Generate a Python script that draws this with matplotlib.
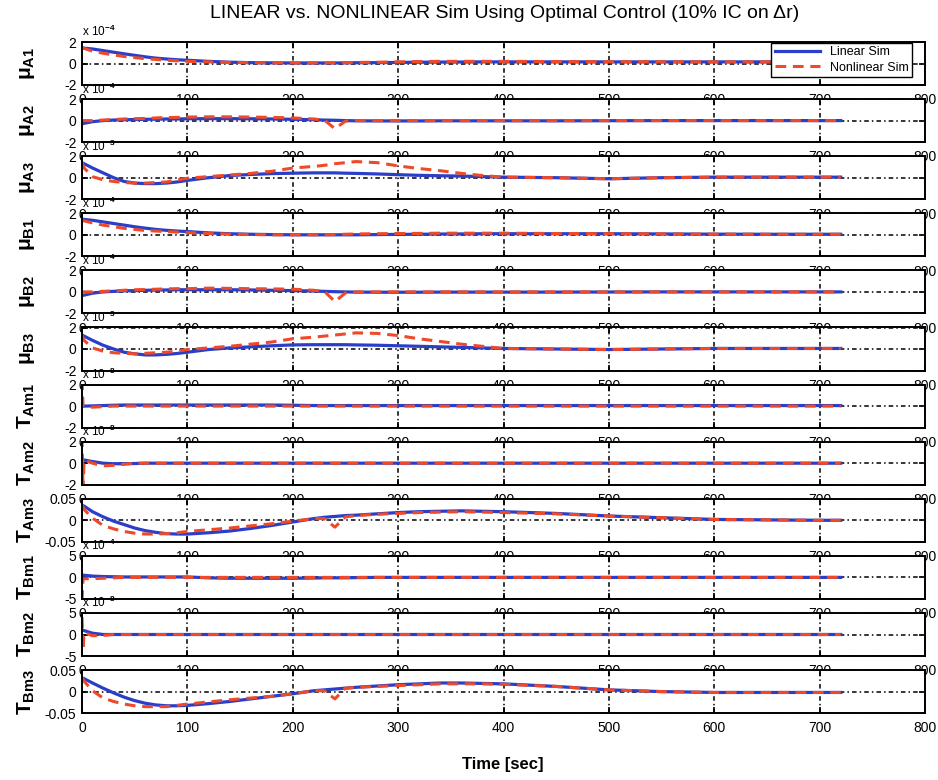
import matplotlib.pyplot as plt

plt.rcParams['font.family'] = ['Liberation Sans', 'DejaVu Sans']
plt.rcParams['axes.unicode_minus'] = False
plt.rcParams['mathtext.fontset'] = 'custom'
plt.rcParams['mathtext.rm'] = 'Liberation Sans:bold'
plt.rcParams['mathtext.it'] = 'Liberation Sans:bold'
plt.rcParams['mathtext.bf'] = 'Liberation Sans:bold'

TITLE = 'LINEAR vs. NONLINEAR Sim Using Optimal Control (10% IC on Δr)'
X_LABEL = 'Time [sec]'
LEGEND_LABELS = ['Linear Sim', 'Nonlinear Sim']
X_TICKS = [0, 100, 200, 300, 400, 500, 600, 700, 800]

# time samples (sec)
t_sec = [0, 1, 2, 10,
	20, 30, 40, 50, 60, 70, 80, 90, 100,
	120, 140, 160, 180, 200, 220,
	230, 240, 250, 260,
	280, 300, 320, 340, 360, 380, 400,
	450, 500, 550, 600, 650, 700, 720]

mu_a1_lin = [1.45, 1.44, 1.43, 1.35,
	1.2, 1.05, 0.9, 0.76, 0.62, 0.5, 0.42, 0.35, 0.3,
	0.2, 0.12, 0.08, 0.06, 0.05, 0.05,
	0.05, 0.05, 0.06, 0.07,
	0.08, 0.1, 0.12, 0.13, 0.14, 0.15, 0.15,
	0.15, 0.15, 0.15, 0.15, 0.15, 0.15, 0.15]
mu_a1_non = [1.45, 1.42, 1.4, 1.15,
	0.95, 0.8, 0.65, 0.55, 0.45, 0.38, 0.3, 0.25, 0.2,
	0.15, 0.1, 0.08, 0.06, 0.05, 0.05,
	0.06, 0.06, 0.08, 0.1,
	0.12, 0.15, 0.18, 0.2, 0.2, 0.2, 0.2,
	0.18, 0.17, 0.16, 0.15, 0.15, 0.15, 0.15]

mu_a2_lin = [-0.3, -0.28, -0.25, -0.1,
	0.0, 0.05, 0.08, 0.1, 0.12, 0.13, 0.15, 0.15, 0.17,
	0.18, 0.18, 0.17, 0.15, 0.12, 0.08,
	0.05, 0.03, 0.0, -0.02,
	-0.03, -0.03, -0.03, -0.02, -0.02, -0.02, -0.02,
	-0.02, -0.01, 0.0, 0.0, 0.0, 0.0, 0.0]
mu_a2_non = [0.0, 0.0, 0.0, 0.0,
	0.05, 0.1, 0.15, 0.18, 0.2, 0.25, 0.28, 0.3, 0.33,
	0.35, 0.35, 0.33, 0.3, 0.25, 0.15,
	0.05, -0.75, -0.05, 0.0,
	0.0, 0.0, 0.0, 0.0, 0.0, 0.0, 0.0,
	0.0, 0.0, 0.0, 0.0, 0.0, 0.0, 0.0]

mu_a3_lin = [1.4, 1.35, 1.3, 0.9,
	0.45, 0.0, -0.35, -0.5, -0.55, -0.55, -0.5, -0.4, -0.25,
	0.0, 0.2, 0.3, 0.38, 0.42, 0.45,
	0.45, 0.45, 0.42, 0.4,
	0.35, 0.28, 0.22, 0.18, 0.15, 0.1, 0.05,
	0.0, -0.1, 0.0, 0.05, 0.05, 0.05, 0.05]
mu_a3_non = [1.4, 1.15, 0.9, 0.1,
	-0.2, -0.35, -0.45, -0.5, -0.5, -0.45, -0.4, -0.2, -0.05,
	0.1, 0.25, 0.4, 0.6, 0.9, 1.05,
	1.15, 1.3, 1.4, 1.5,
	1.4, 1.1, 0.85, 0.65, 0.4, 0.2, 0.05,
	0.0, -0.1, 0.0, 0.05, 0.05, 0.05, 0.05]

mu_b1_lin = [1.45, 1.44, 1.43, 1.35,
	1.2, 1.05, 0.9, 0.75, 0.62, 0.5, 0.42, 0.35, 0.3,
	0.18, 0.1, 0.05, 0.02, 0.0, 0.0,
	0.0, 0.0, 0.0, 0.0,
	0.02, 0.04, 0.05, 0.07, 0.08, 0.1, 0.1,
	0.1, 0.1, 0.08, 0.06, 0.05, 0.05, 0.05]
mu_b1_non = [1.35, 1.32, 1.3, 1.1,
	0.9, 0.75, 0.6, 0.5, 0.4, 0.35, 0.3, 0.25, 0.2,
	0.12, 0.06, 0.03, 0.0, 0.0, 0.0,
	0.0, 0.02, 0.05, 0.08,
	0.1, 0.12, 0.13, 0.15, 0.15, 0.15, 0.15,
	0.12, 0.1, 0.08, 0.06, 0.05, 0.05, 0.05]

mu_b2_lin = [-0.35, -0.32, -0.3, -0.12,
	0.0, 0.05, 0.1, 0.12, 0.15, 0.17, 0.18, 0.2, 0.2,
	0.2, 0.2, 0.18, 0.15, 0.12, 0.08,
	0.05, 0.02, 0.0, -0.02,
	-0.03, -0.03, -0.03, -0.02, -0.02, -0.02, -0.02,
	-0.02, -0.01, 0.0, 0.0, 0.0, 0.0, 0.0]
mu_b2_non = [0.0, 0.0, 0.0, 0.0,
	0.05, 0.1, 0.15, 0.2, 0.22, 0.25, 0.28, 0.3, 0.3,
	0.35, 0.33, 0.3, 0.28, 0.25, 0.15,
	0.05, -0.9, -0.1, 0.0,
	0.0, 0.0, 0.0, 0.0, 0.0, 0.0, 0.0,
	0.0, 0.0, 0.0, 0.0, 0.0, 0.0, 0.0]

mu_b3_lin = [1.3, 1.25, 1.2, 0.8,
	0.35, 0.0, -0.3, -0.45, -0.55, -0.55, -0.5, -0.42, -0.3,
	-0.05, 0.1, 0.2, 0.3, 0.38, 0.4,
	0.4, 0.4, 0.4, 0.38,
	0.35, 0.3, 0.25, 0.2, 0.15, 0.1, 0.05,
	0.0, -0.05, 0.0, 0.05, 0.05, 0.05, 0.05]
mu_b3_non = [1.3, 1.05, 0.8, 0.1,
	-0.2, -0.35, -0.4, -0.45, -0.4, -0.35, -0.3, -0.2, -0.05,
	0.1, 0.25, 0.45, 0.65, 0.95, 1.1,
	1.2, 1.3, 1.4, 1.5,
	1.45, 1.25, 0.95, 0.7, 0.45, 0.25, 0.05,
	0.0, -0.05, 0.0, 0.05, 0.05, 0.05, 0.05]

t_am1_lin = [0.0, 0.0, 0.0, 0.02,
	0.05, 0.08, 0.1, 0.1, 0.1, 0.1, 0.1, 0.1, 0.1,
	0.1, 0.1, 0.1, 0.1, 0.08, 0.05,
	0.05, 0.05, 0.05, 0.05,
	0.05, 0.05, 0.05, 0.05, 0.05, 0.05, 0.05,
	0.05, 0.05, 0.05, 0.05, 0.05, 0.05, 0.05]
t_am1_non = [2.5, 0.0, -0.05, -0.1,
	-0.05, 0.0, 0.0, 0.0, 0.0, 0.0, 0.0, 0.0, 0.0,
	0.0, 0.0, 0.0, 0.0, 0.0, 0.0,
	0.0, 0.0, 0.0, 0.0,
	0.0, 0.0, 0.0, 0.0, 0.0, 0.0, 0.0,
	0.0, 0.0, 0.0, 0.0, 0.0, 0.0, 0.0]

t_am2_lin = [0.3, 0.3, 0.3, 0.15,
	0.0, -0.05, -0.05, -0.03, 0.0, 0.0, 0.0, 0.0, 0.0,
	0.0, 0.0, 0.0, 0.0, 0.0, 0.0,
	0.0, 0.0, 0.0, 0.0,
	0.0, 0.0, 0.0, 0.0, 0.0, 0.0, 0.0,
	0.0, 0.0, 0.0, 0.0, 0.0, 0.0, 0.0]
t_am2_non = [2.5, -2.5, 0.3, 0.0,
	-0.25, -0.2, -0.1, 0.0, 0.0, 0.0, 0.0, 0.0, 0.0,
	0.0, 0.0, 0.0, 0.0, 0.0, 0.0,
	0.0, 0.0, 0.0, 0.0,
	0.0, 0.0, 0.0, 0.0, 0.0, 0.0, 0.0,
	0.0, 0.0, 0.0, 0.0, 0.0, 0.0, 0.0]

t_am3_lin = [0.035, 0.034, 0.033, 0.02,
	0.008, -0.002, -0.01, -0.018, -0.024, -0.028, -0.031, -0.032, -0.032,
	-0.029, -0.025, -0.019, -0.012, -0.004, 0.004,
	0.007, 0.009, 0.011, 0.012,
	0.015, 0.018, 0.02, 0.021, 0.022, 0.021, 0.02,
	0.016, 0.01, 0.006, 0.002, 0.001, 0.0, 0.0]
t_am3_non = [0.035, 0.03, 0.025, 0.005,
	-0.012, -0.02, -0.026, -0.03, -0.032, -0.032, -0.031, -0.029, -0.026,
	-0.022, -0.018, -0.013, -0.008, -0.002, 0.004,
	0.004, -0.016, 0.008, 0.011,
	0.014, 0.016, 0.018, 0.019, 0.02, 0.019, 0.018,
	0.015, 0.01, 0.006, 0.002, 0.001, 0.0, 0.0]

t_bm1_lin = [0.5, 0.5, 0.5, 0.3,
	0.2, 0.15, 0.1, 0.1, 0.1, 0.1, 0.1, 0.1, 0.1,
	-0.1, -0.2, -0.2, -0.2, -0.2, -0.15,
	-0.1, -0.1, -0.1, -0.05,
	0.0, 0.0, 0.0, 0.0, 0.0, 0.0, 0.0,
	0.0, 0.0, 0.0, 0.0, 0.0, 0.0, 0.0]
t_bm1_non = [-5.5, -0.3, -0.3, -0.3,
	-0.2, -0.1, 0.0, 0.0, 0.0, 0.0, 0.0, 0.0, 0.0,
	0.0, 0.0, 0.0, 0.0, 0.0, 0.0,
	0.0, 0.0, 0.0, 0.0,
	0.0, 0.0, 0.0, 0.0, 0.0, 0.0, 0.0,
	0.0, 0.0, 0.0, 0.0, 0.0, 0.0, 0.0]

t_bm2_lin = [1.0, 1.0, 0.9, 0.3,
	0.0, 0.0, 0.0, 0.0, 0.0, 0.0, 0.0, 0.0, 0.0,
	0.0, 0.0, 0.0, 0.0, 0.0, 0.0,
	0.0, 0.0, 0.0, 0.0,
	0.0, 0.0, 0.0, 0.0, 0.0, 0.0, 0.0,
	0.0, 0.0, 0.0, 0.0, 0.0, 0.0, 0.0]
t_bm2_non = [4.0, -3.5, 0.5, -0.3,
	-0.2, 0.0, 0.0, 0.0, 0.0, 0.0, 0.0, 0.0, 0.0,
	0.0, 0.0, 0.0, 0.0, 0.0, 0.0,
	0.0, 0.0, 0.0, 0.0,
	0.0, 0.0, 0.0, 0.0, 0.0, 0.0, 0.0,
	0.0, 0.0, 0.0, 0.0, 0.0, 0.0, 0.0]

t_bm3_lin = [0.032, 0.031, 0.03, 0.02,
	0.008, -0.003, -0.013, -0.021, -0.027, -0.031, -0.033, -0.033, -0.032,
	-0.028, -0.023, -0.017, -0.011, -0.005, 0.002,
	0.004, 0.006, 0.008, 0.01,
	0.013, 0.016, 0.018, 0.02, 0.02, 0.019, 0.018,
	0.012, 0.004, 0.0, -0.002, -0.002, -0.002, -0.002]
t_bm3_non = [0.032, 0.028, 0.024, 0.002,
	-0.015, -0.023, -0.029, -0.033, -0.035, -0.035, -0.035, -0.032, -0.029,
	-0.024, -0.019, -0.015, -0.011, -0.005, 0.002,
	0.002, -0.017, 0.008, 0.01,
	0.012, 0.014, 0.016, 0.018, 0.018, 0.018, 0.017,
	0.012, 0.004, 0.0, -0.002, -0.002, -0.002, -0.002]

panel_names = [r'$μ_{A1}$', r'$μ_{A2}$', r'$μ_{A3}$',
	r'$μ_{B1}$', r'$μ_{B2}$', r'$μ_{B3}$',
	r'$T_{Am1}$', r'$T_{Am2}$', r'$T_{Am3}$',
	r'$T_{Bm1}$', r'$T_{Bm2}$', r'$T_{Bm3}$']
panel_scales = [r'x 10$^{-4}$', r'x 10$^{-4}$', r'x 10$^{-3}$',
	r'x 10$^{-4}$', r'x 10$^{-4}$', r'x 10$^{-3}$',
	r'x 10$^{-8}$', r'x 10$^{-8}$', '',
	r'x 10$^{-4}$', r'x 10$^{-8}$', '']
panel_ticks = [[-2, 0, 2]] * 8 + [[-0.05, 0, 0.05]] \
	+ [[-5, 0, 5]] * 2 + [[-0.05, 0, 0.05]]
panel_ticklabels = [['-2', '0', '2']] * 8 + [['-0.05', '0', '0.05']] \
	+ [['-5', '0', '5']] * 2 + [['-0.05', '0', '0.05']]
linear_runs = [mu_a1_lin, mu_a2_lin, mu_a3_lin, mu_b1_lin, mu_b2_lin,
	mu_b3_lin, t_am1_lin, t_am2_lin, t_am3_lin, t_bm1_lin, t_bm2_lin,
	t_bm3_lin]
nonlinear_runs = [mu_a1_non, mu_a2_non, mu_a3_non, mu_b1_non, mu_b2_non,
	mu_b3_non, t_am1_non, t_am2_non, t_am3_non, t_bm1_non, t_bm2_non,
	t_bm3_non]

COLOR_LIN = '#2b3ec8'
COLOR_NON = '#ee4a2a'
W, H = 938, 780

figure = plt.figure(figsize=(W / 100, H / 100), dpi=100)
for i in range(12):
	top = 42 + 57.1 * i
	ax = figure.add_axes([82 / W, 1 - (top + 43) / H, 843 / W, 43 / H])
	ax.plot(t_sec, linear_runs[i], color=COLOR_LIN, lw=2.3,
		label=LEGEND_LABELS[0])
	ax.plot(t_sec, nonlinear_runs[i], color=COLOR_NON, lw=2.2,
		dashes=(3.5, 2.2), label=LEGEND_LABELS[1])
	ax.set_xlim(0, 800)
	ax.set_ylim(panel_ticks[i][0], panel_ticks[i][-1])
	ax.set_xticks(X_TICKS)
	ax.set_yticks(panel_ticks[i], labels=panel_ticklabels[i])
	ax.grid(True, color='k', lw=1.1, linestyle=(0, (3, 2, 1, 2)))
	ax.tick_params(direction='in', top=True, right=True, length=4,
		width=1.2, labelsize=10, pad=6)
	ax.tick_params(axis='y', pad=4)
	for spine in ax.spines.values():
		spine.set_linewidth(1.4)
	ax.set_ylabel(panel_names[i], fontsize=15)
	ax.yaxis.set_label_coords(-0.053, 0.5)
	if panel_scales[i]:
		ax.text(0.0, 1.06, panel_scales[i], transform=ax.transAxes,
			ha='left', va='bottom', fontsize=8.5)
	if i == 0:
		ax.legend(loc='upper right', bbox_to_anchor=(0.985, 0.985),
			borderaxespad=0, fontsize=9, fancybox=False, framealpha=1,
			edgecolor='k', handlelength=3.6, borderpad=0.3,
			labelspacing=0.25)

figure.text(505 / W, 1 - 14 / H, TITLE, ha='center', va='center',
	fontsize=14)
figure.text(503 / W, 1 - 765 / H, X_LABEL, ha='center', va='center',
	fontsize=12, fontweight='bold')
figure.savefig('out.png', dpi=100)
